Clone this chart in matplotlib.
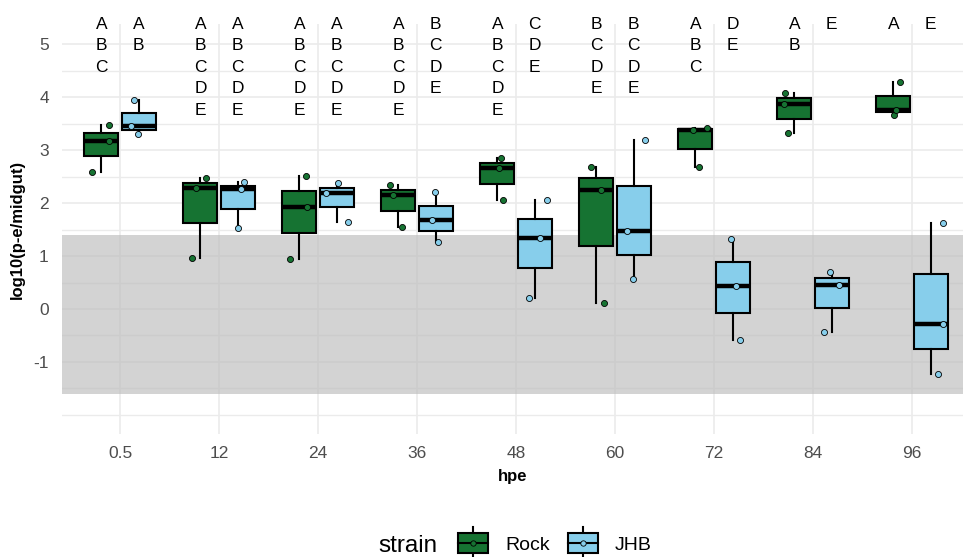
import matplotlib
matplotlib.use('Agg')
import matplotlib.pyplot as plt
from matplotlib.patches import Rectangle
from matplotlib.ticker import FixedLocator
import numpy as np

plt.rcParams['font.family'] = ['Liberation Sans', 'DejaVu Sans']
plt.rcParams['axes.unicode_minus'] = False

# hours post exposure
hpe = ['0.5', '12', '24', '36', '48', '60', '72', '84', '96']

# log10 parasites per midgut, 3 midguts per group
rock = [[2.58, 3.18, 3.47], [0.97, 2.28, 2.47], [0.94, 1.93, 2.51],
        [1.54, 2.15, 2.34], [2.05, 2.67, 2.85], [0.11, 2.25, 2.68],
        [2.68, 3.37, 3.42], [3.32, 3.87, 4.08], [3.67, 3.75, 4.29]]
jhb = [[3.31, 3.45, 3.94], [1.52, 2.27, 2.39], [1.65, 2.19, 2.38],
       [1.26, 1.68, 2.20], [0.21, 1.34, 2.06], [0.56, 1.47, 3.19],
       [-0.58, 0.43, 1.33], [-0.43, 0.46, 0.70], [-1.22, -0.29, 1.62]]

# compact letter display
letters_rock = ['ABC', 'ABCDE', 'ABCDE', 'ABCDE', 'ABCDE', 'BCDE', 'ABC', 'AB', 'A']
letters_jhb = ['AB', 'ABCDE', 'ABCDE', 'BCDE', 'CDE', 'BCDE', 'DE', 'E', 'E']

# detection limit band
lod_low = -1.6
lod_high = 1.4

# horizontal jitter of the points (category units)
jit_rock = [[-0.09, 0.08, 0.08], [-0.08, -0.04, 0.06], [-0.09, 0.08, 0.07],
            [0.04, -0.05, -0.08], [0.06, 0.02, 0.04], [0.08, 0.05, -0.05],
            [0.04, -0.02, 0.12], [-0.06, -0.11, -0.09], [0.01, 0.03, 0.07]]
jit_jhb = [[-0.01, -0.08, -0.05], [0.0, 0.03, 0.06], [0.11, -0.11, 0.01],
           [0.02, -0.04, -0.01], [-0.06, 0.05, 0.12], [-0.01, -0.07, 0.11],
           [0.07, 0.03, -0.02], [-0.08, 0.07, -0.02], [0.07, 0.12, 0.12]]

green = '#167332'
blue = '#87CEEB'

W, H = 963, 557
fig = plt.figure(figsize=(W / 100, H / 100), dpi=100)
ax = fig.add_axes([62 / W, 123 / H, 901 / W, 410 / H])

x = np.arange(1, len(hpe) + 1)
dodge = 0.188

ax.axhspan(lod_low, lod_high, color='#BEBEBE', alpha=0.68, lw=0, zorder=1)

for data, jit, col, off in [(rock, jit_rock, green, -dodge), (jhb, jit_jhb, blue, dodge)]:
    ax.boxplot(data, positions=x + off, widths=0.345, patch_artist=True,
               whis=(0, 100), showfliers=False, showcaps=False, manage_ticks=False,
               boxprops=dict(facecolor=col, edgecolor='black', linewidth=1.5),
               medianprops=dict(color='black', linewidth=3.2),
               whiskerprops=dict(color='black', linewidth=1.5), zorder=3)
    for i in range(len(hpe)):
        ax.scatter(x[i] + off + np.array(jit[i]), data[i], s=19, c=col,
                   edgecolors='black', linewidths=0.6, zorder=4)

for i in range(len(hpe)):
    ax.text(x[i] - dodge, 5.51, '\n'.join(letters_rock[i]), ha='center', va='top',
            fontsize=12.5, linespacing=1.53, clip_on=False)
    ax.text(x[i] + dodge, 5.51, '\n'.join(letters_jhb[i]), ha='center', va='top',
            fontsize=12.5, linespacing=1.53, clip_on=False)

ax.set_xlim(0.414, 9.515)
ax.set_ylim(-2.36, 5.38)
ax.set_xticks(x)
ax.set_xticklabels(hpe)
ax.set_yticks(range(-1, 6))
ax.yaxis.set_minor_locator(FixedLocator([-2, -1.5, -0.5, 0.5, 1.5, 2.5, 3.5, 4.5]))
ax.set_axisbelow(True)
ax.grid(which='major', color='#EBEBEB', linewidth=1.2)
ax.grid(which='minor', axis='y', color='#EBEBEB', linewidth=1.0)
for s in ax.spines.values():
    s.set_visible(False)
ax.tick_params(which='both', length=0, labelsize=12.5, labelcolor='#4D4D4D')
ax.tick_params(axis='y', pad=9.5)
ax.tick_params(axis='x', pad=9)

ax.set_xlabel('hpe', fontsize=12, fontweight='bold')
ax.xaxis.set_label_coords(0.5, -0.085)
ax.set_ylabel('log10(p-e/midgut)', fontsize=12, fontweight='bold')
ax.yaxis.set_label_coords(-0.041, 0.5)

# legend at the bottom
lax = fig.add_axes([0, 0, 1, 1])
lax.set_xlim(0, W)
lax.set_ylim(H, 0)
lax.axis('off')
lax.text(378, 546, 'strain', fontsize=17.5, va='center', ha='left')
for x0, col, lab in [(458, green, 'Rock'), (568, blue, 'JHB')]:
    lax.plot([x0 + 15, x0 + 15], [527, 557], color='black', lw=1.5, zorder=1)
    lax.add_patch(Rectangle((x0, 533), 30, 20, facecolor=col, edgecolor='black', lw=1.5, zorder=2))
    lax.plot([x0, x0 + 30], [543, 543], color='black', lw=1.5, zorder=3)
    lax.scatter([x0 + 15], [543], s=15, c=col, edgecolors='black', linewidths=0.6, zorder=4)
    lax.text(x0 + 47, 546, lab, fontsize=14, va='center', ha='left')

fig.savefig('out.png', dpi=100)
